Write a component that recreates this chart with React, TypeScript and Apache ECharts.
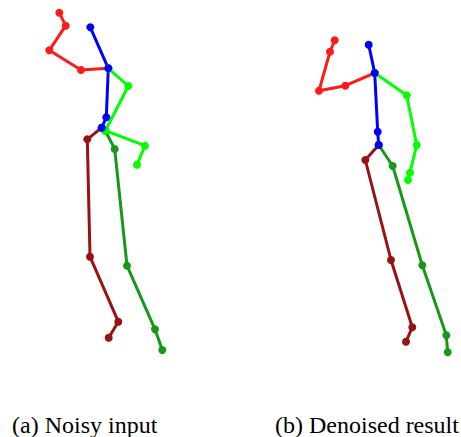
import React, { useEffect, useRef } from "react";
import * as echarts from "echarts";

// Skeleton joints (x right, y down), per limb chain
const noisyRedArm = [[59.3, 12.7], [65.7, 25.7], [49.3, 50.3], [81, 70], [108.3, 68.3]];
const noisySpine = [[90.3, 27.3], [108.3, 68.3], [106.3, 117.3], [101.7, 127.7]];
const noisyGreenArm = [[108.3, 68.3], [128.3, 86], [105.3, 130.7], [145, 145.7], [137, 164.7]];
const noisyRedLeg = [[101.7, 127.7], [87.3, 139.3], [90, 256.7], [118.3, 321.7], [108.7, 337.7]];
const noisyGreenLeg = [[105.3, 130.7], [114.7, 149], [127, 265.7], [155, 329.3], [162.3, 350]];

const cleanRedArm = [[334.7, 40.3], [330, 51.7], [319, 90.7], [345.3, 85.7], [374.7, 73]];
const cleanSpine = [[368.7, 44.7], [374.7, 73], [377.7, 131.7], [378.7, 145]];
const cleanGreenArm = [[374.7, 73], [406.7, 95.3], [416.7, 145], [410, 172.7], [408, 180]];
const cleanRedLeg = [[378.7, 145], [365.3, 160], [391, 260], [412.3, 327.3], [406, 341.7]];
const cleanGreenLeg = [[378.7, 145], [392.7, 166], [422.3, 265.3], [446.3, 335.3], [447.7, 352.3]];

const captions = ["(a) Noisy input", "(b) Denoised result"];

const RED = "#ff1a1a";
const BLUE = "#0000ff";
const LIME = "#00ff00";
const DARKRED = "#981212";
const DARKGREEN = "#179917";

function limb(data: number[][], color: string) {
  return {
    type: "line",
    data,
    symbol: "circle",
    symbolSize: 8,
    showSymbol: true,
    lineStyle: { color, width: 3 },
    itemStyle: { color },
    silent: true,
  };
}

function joint(data: number[][], color: string) {
  return {
    type: "scatter",
    data,
    symbol: "circle",
    symbolSize: 8,
    itemStyle: { color },
    silent: true,
  };
}

export default function App() {
  const ref = useRef<HTMLDivElement>(null);
  useEffect(() => {
    const chart = echarts.init(ref.current!, undefined, { renderer: "svg" });
    chart.setOption({
      animation: false,
      backgroundColor: "#ffffff",
      grid: { left: 0, right: 0, top: 0, bottom: 0 },
      xAxis: { type: "value", min: 0, max: 461, show: false },
      yAxis: { type: "value", min: 0, max: 437, inverse: true, show: false },
      series: [
        limb(noisyRedLeg, DARKRED),
        limb(noisyGreenLeg, DARKGREEN),
        limb(noisyRedArm, RED),
        limb(noisyGreenArm, LIME),
        limb(noisySpine, BLUE),
        joint([noisyGreenArm[2]], LIME),
        limb(cleanRedLeg, DARKRED),
        limb(cleanGreenLeg, DARKGREEN),
        limb(cleanRedArm, RED),
        limb(cleanGreenArm, LIME),
        limb(cleanSpine, BLUE),
      ],
      graphic: [
        {
          type: "text",
          x: 12,
          y: 425,
          style: {
            text: captions[0],
            font: '24px "Liberation Serif"',
            fill: "#000",
            verticalAlign: "middle",
          },
        },
        {
          type: "text",
          x: 275,
          y: 425,
          style: {
            text: captions[1],
            font: '24px "Liberation Serif"',
            fill: "#000",
            verticalAlign: "middle",
          },
        },
      ],
    });
    return () => chart.dispose();
  }, []);
  return (
    <div
      ref={ref}
      style={{ position: "fixed", left: 0, top: 0, width: 461, height: 437 }}
    />
  );
}
